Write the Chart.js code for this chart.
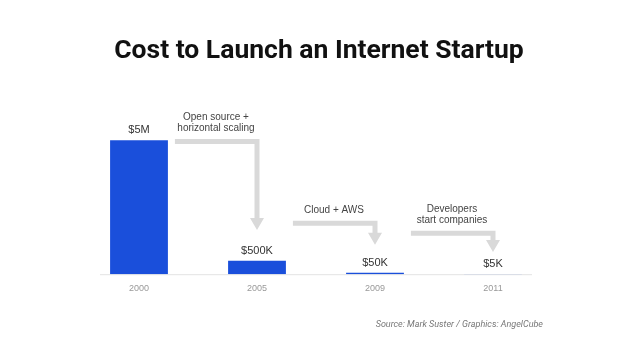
<!DOCTYPE html>
<html>
<head>
<meta charset="utf-8">
<script src="https://cdn.jsdelivr.net/npm/chart.js@4/dist/chart.umd.min.js"></script>
<style>
  html, body { margin: 0; padding: 0; background: #fff; }
  #wrap { position: relative; width: 638px; height: 359px; }
</style>
</head>
<body>
<div id="wrap"><canvas id="chart" width="638" height="359"></canvas></div>
<script>
// data
const years = ["2000", "2005", "2009", "2011"];
const costs = [5000000, 500000, 50000, 5000];
const costLabels = ["$5M", "$500K", "$50K", "$5K"];

// arrow annotations between bars (levels in dollars on the same y scale)
const arrowTexts = [["Open source +", "horizontal scaling"], ["Cloud + AWS"], ["Developers", "start companies"]];
const arrowLevels = [4950000, 1900000, 1530000];
const arrowTips = [1650000, 1100000, 830000];

const titleText = "Cost to Launch an Internet Startup";
const sourceText = "Source: Mark Suster / Graphics: AngelCube";

const grey = "#d9d9d9";

const extras = {
    id: "extras",
    beforeDraw(chart) {
        const ctx = chart.ctx;
        ctx.save();
        ctx.fillStyle = "#111";
        ctx.font = "bold 26.5px Roboto";
        ctx.textAlign = "center";
        ctx.textBaseline = "middle";
        ctx.fillText(titleText, chart.width / 2, 51);

        ctx.fillStyle = "#777";
        ctx.font = "italic 9px Roboto";
        ctx.textAlign = "right";
        ctx.fillText(sourceText, 543, 325);

        // baseline
        const y0 = chart.scales.y.getPixelForValue(0);
        ctx.strokeStyle = "#e3e3e3";
        ctx.lineWidth = 1;
        ctx.beginPath();
        ctx.moveTo(100, y0 + 0.5);
        ctx.lineTo(532, y0 + 0.5);
        ctx.stroke();
        ctx.restore();
    },
    afterDatasetsDraw(chart) {
        const ctx = chart.ctx;
        const bars = chart.getDatasetMeta(0).data;
        const ys = chart.scales.y;
        ctx.save();

        // value labels above bars
        ctx.fillStyle = "#333";
        ctx.font = "11px 'Liberation Sans', Arial, sans-serif";
        ctx.textAlign = "center";
        ctx.textBaseline = "middle";
        bars.forEach((b, i) => {
            ctx.fillText(costLabels[i], b.x, b.y - 10);
        });

        // arrows
        for (let i = 0; i < arrowLevels.length; i++) {
            const from = bars[i];
            const to = bars[i + 1];
            const x1 = from.x + from.width / 2 + 7;
            const x2 = to.x;
            const yH = ys.getPixelForValue(arrowLevels[i]);
            const yTip = ys.getPixelForValue(arrowTips[i]);
            const half = 2.5;

            ctx.fillStyle = grey;
            ctx.beginPath();
            ctx.moveTo(x1, yH - half);
            ctx.lineTo(x2 + half, yH - half);
            ctx.lineTo(x2 + half, yTip - 12);
            ctx.lineTo(x2 + 7, yTip - 12);
            ctx.lineTo(x2, yTip);
            ctx.lineTo(x2 - 7, yTip - 12);
            ctx.lineTo(x2 - half, yTip - 12);
            ctx.lineTo(x2 - half, yH + half);
            ctx.lineTo(x1, yH + half);
            ctx.closePath();
            ctx.fill();

            // annotation text
            ctx.fillStyle = "#444";
            ctx.font = "10px 'Liberation Sans', Arial, sans-serif";
            const lines = arrowTexts[i];
            const cx = (x1 + x2) / 2;
            lines.forEach((t, k) => {
                ctx.fillText(t, cx, yH - 13 - (lines.length - 1 - k) * 11);
            });
        }
        ctx.restore();
    }
};

new Chart(document.getElementById("chart"), {
    type: "bar",
    data: {
        labels: years,
        datasets: [{
            data: costs,
            backgroundColor: "#1a4fdb",
            barPercentage: 0.49,
            categoryPercentage: 1
        }]
    },
    options: {
        responsive: false,
        animation: false,
        layout: { padding: { left: 80, right: 86, top: 100, bottom: 56 } },
        plugins: {
            legend: { display: false },
            tooltip: { enabled: false }
        },
        scales: {
            x: {
                grid: { display: false, drawTicks: false },
                border: { display: false },
                ticks: {
                    color: "#999",
                    font: { size: 9, family: "'Liberation Sans', Arial, sans-serif" },
                    padding: 9
                }
            },
            y: {
                display: false,
                min: 0,
                max: 6500000
            }
        }
    },
    plugins: [extras]
});
</script>
</body>
</html>
